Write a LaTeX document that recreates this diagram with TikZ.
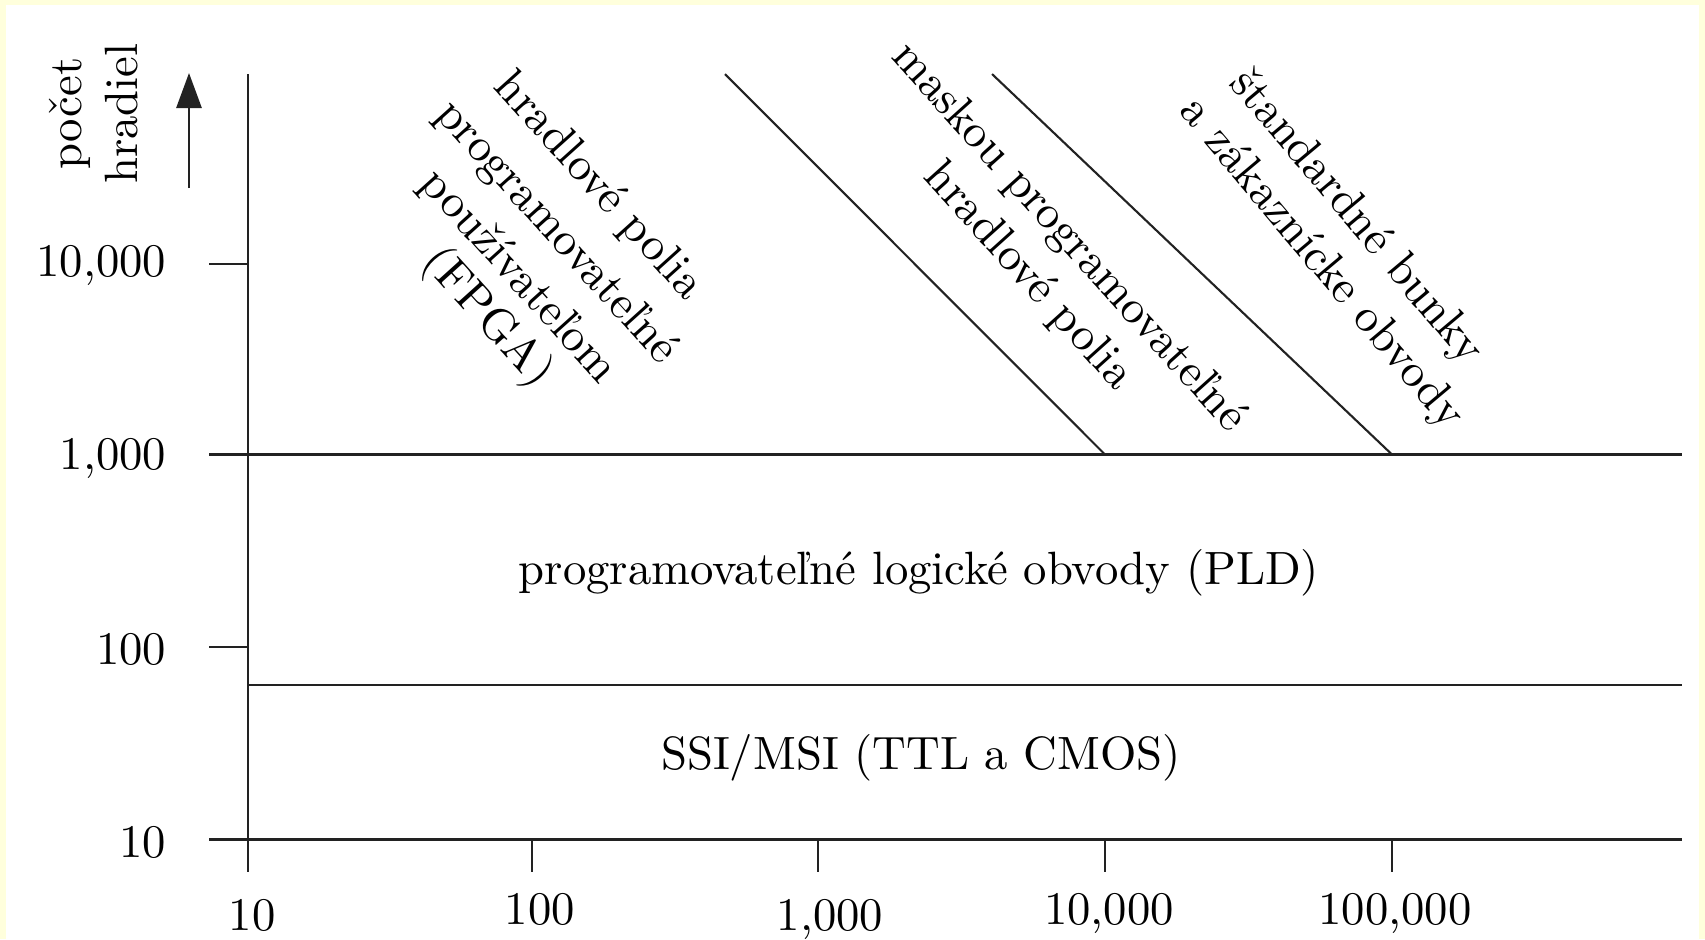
\documentclass[tikz,border=0pt]{standalone}
\usepackage{fontspec}
\usetikzlibrary{arrows.meta}
\definecolor{frameyellow}{HTML}{FFFFDC}
\definecolor{linegray}{HTML}{222222}
\begin{document}
\begin{tikzpicture}[x=0.2141pt,y=-0.2141pt,
  axis/.style={line width=0.45pt, draw=linegray},
  lbl/.style={inner sep=0pt, font=\fontsize{10}{12}\selectfont},
  ylab/.style={lbl, anchor=base east},
  xlab/.style={lbl, anchor=base},
  diagtext/.style={lbl, rotate=-48, anchor=center},
  diagsteep/.style={lbl, rotate=-50, anchor=center},
]
\fill[frameyellow] (0,0) rectangle (1705,939);
\fill[white] (6,5) rectangle (1699,939);
\useasboundingbox (0,0) rectangle (1705,939);

% axes
\coordinate (ytop) at (248,74);
\coordinate (ybot) at (248,872);
\coordinate (b10l) at (209,839.5);
\coordinate (b10r) at (1682,839.5);
\coordinate (b1kl) at (209,454.5);
\coordinate (b1kr) at (1682,454.5);
\coordinate (ssil) at (248,685);
\coordinate (ssir) at (1682,685);
\coordinate (t100l) at (209,647);
\coordinate (t100r) at (248,647);
\coordinate (t10kl) at (209,264);
\coordinate (t10kr) at (248,264);
\draw[axis] (ytop) -- (ybot);
\draw[axis] (b10l) -- (b10r);
\draw[axis] (b1kl) -- (b1kr);
\draw[axis] (ssil) -- (ssir);
\draw[axis] (t100l) -- (t100r);
\draw[axis] (t10kl) -- (t10kr);
\foreach \xx/\nm in {532/a,818/b,1105/c,1392/d}{
  \coordinate (xt\nm u) at (\xx,839.5);
  \coordinate (xt\nm d) at (\xx,872);
  \draw[axis] (xt\nm u) -- (xt\nm d);
}
% diagonal boundaries
\coordinate (d1a) at (725,74);
\coordinate (d1b) at (1105,454.5);
\coordinate (d2a) at (992,74);
\coordinate (d2b) at (1392,454.5);
\draw[axis] (d1a) -- (d1b);
\draw[axis] (d2a) -- (d2b);

% arrow
\coordinate (arrb) at (189,188);
\coordinate (arrt) at (189,73);
\draw[axis, -{Triangle[length=7.5pt,width=5.4pt]}] (arrb) -- (arrt);

% y label
\node[lbl, rotate=90, align=center] (ytitle) at (93.5,113.5) {počet\\hradiel};

% y tick labels
\node[ylab] (y10k) at (167,276) {10,000};
\node[ylab] (y1k) at (167,469) {1,000};
\node[ylab] (y100) at (167,664) {100};
\node[ylab] (y10) at (167,857) {10};

% x tick labels
\node[xlab] (x10) at (252,930) {10};
\node[xlab] (x100) at (540,924) {100};
\node[xlab] (x1k) at (830,930) {1,000};
\node[xlab] (x10k) at (1109,924) {10,000};
\node[xlab] (x100k) at (1395,924) {100,000};

% region labels
\node[lbl] (pld) at (919,573) {programovateľné logické obvody (PLD)};
\node[lbl] (ssi) at (921,758) {SSI/MSI (TTL a CMOS)};

% FPGA
\node[diagtext] (f1) at (598,187) {hradlové polia};
\node[diagtext] (f2) at (556,233) {programovateľné};
\node[diagtext] (f3) at (518,277) {používateľom};
\node[diagtext] (f4) at (487,318) {(FPGA)};
% mask programmable
\node[diagtext] (m1) at (1068,238) {maskou programovateľné};
\node[diagtext] (m2) at (1028,277) {hradlové polia};
% standard cells
\node[diagsteep] (s1) at (1356,218) {štandardné bunky};
\node[diagsteep] (s2) at (1321,264) {a zákaznícke obvody};
\end{tikzpicture}
\end{document}
